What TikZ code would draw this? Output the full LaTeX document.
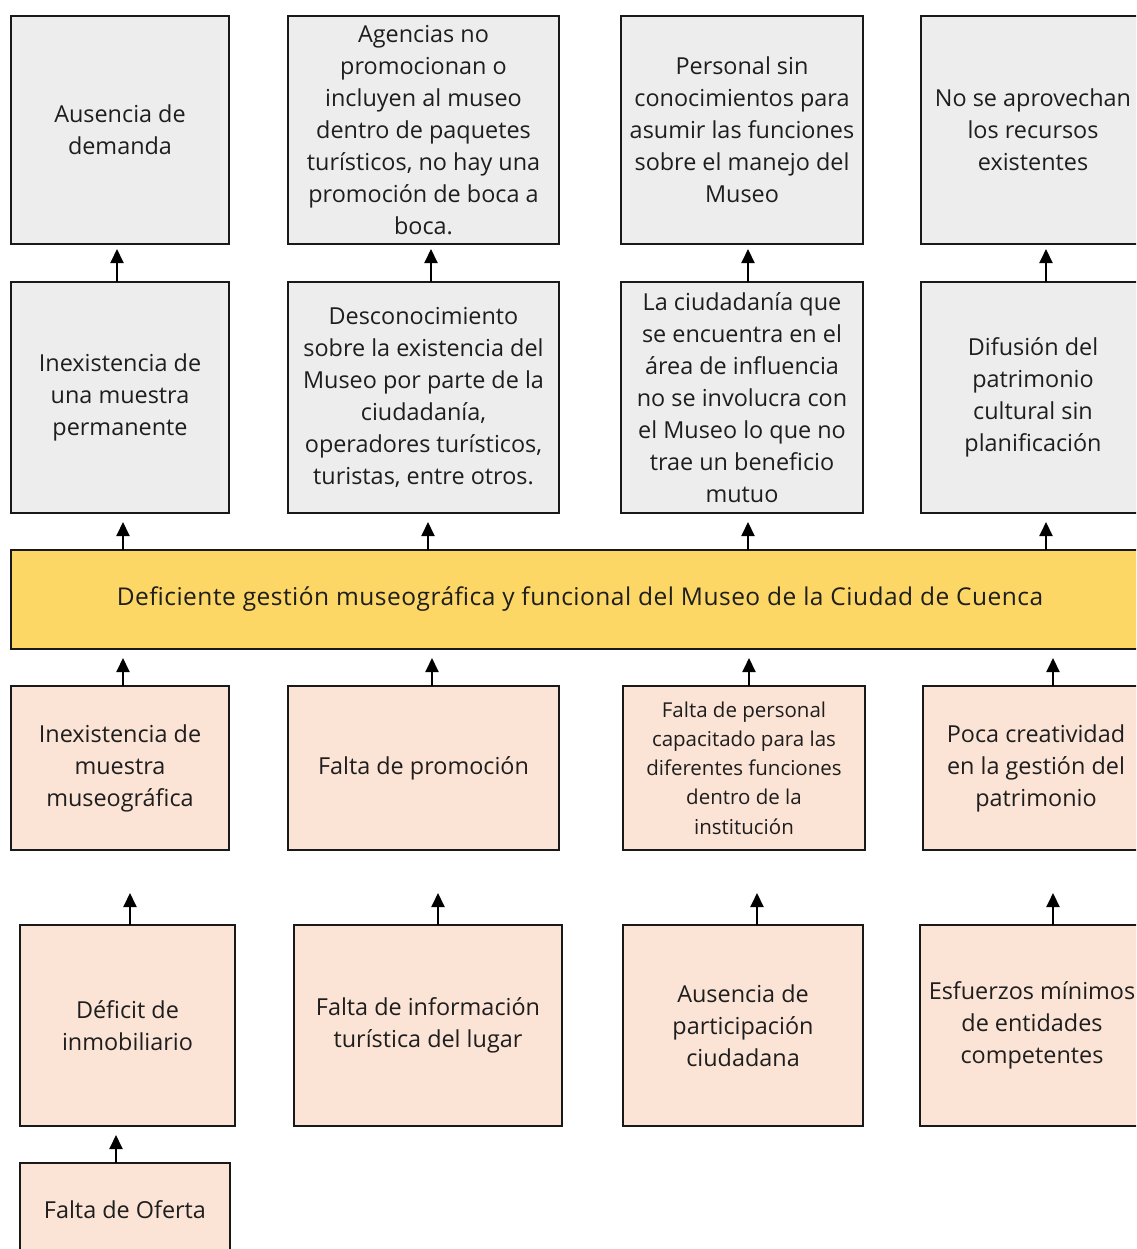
\documentclass[tikz,border=0pt]{standalone}
\usepackage{fontspec}
\setmainfont{Open Sans}
\usetikzlibrary{arrows.meta}
\definecolor{greyfill}{HTML}{EDEDED}
\definecolor{yellowfill}{HTML}{FCD765}
\definecolor{pinkfill}{HTML}{FBE3D6}
\definecolor{txt}{HTML}{1E1E1E}
\tikzset{
  box/.style={draw=black!90, line width=1.8pt, anchor=north west, inner sep=0pt, outer sep=0pt, align=center,
    font=\fontsize{23.4}{32}\selectfont, text=txt},
  effect/.style={box, fill=greyfill},
  cause/.style={box, fill=pinkfill},
  core/.style={box, fill=yellowfill},
  arr/.style={line width=2pt, draw=black, -{Triangle[width=13pt,length=14pt]}},
}
\begin{document}
\begin{tikzpicture}[x=1pt,y=-1pt]
\useasboundingbox (0,0) rectangle (1136,1249);
\clip (0,0) rectangle (1136,1249);
\fill[white] (0,0) rectangle (1136,1249);
% row 1
\node[effect, minimum width=218pt, minimum height=228pt] (r1c1) at (11,16) {Ausencia de\\demanda};
\node[effect, minimum width=271pt, minimum height=228pt] (r1c2) at (288,16) {Agencias no\\promocionan o\\incluyen al museo\\dentro de paquetes\\turísticos, no hay una\\promoción de boca a\\boca.};
\node[effect, minimum width=242pt, minimum height=228pt] (r1c3) at (621,16) {Personal sin\\conocimientos para\\asumir las funciones\\sobre el manejo del\\Museo};
\node[effect, minimum width=224pt, minimum height=228pt] (r1c4) at (921,16) {No se aprovechan\\los recursos\\existentes};
% row 2
\node[effect, minimum width=218pt, minimum height=231pt] (r2c1) at (11,282) {Inexistencia de\\una muestra\\permanente};
\node[effect, minimum width=271pt, minimum height=231pt] (r2c2) at (288,282) {Desconocimiento\\sobre la existencia del\\Museo por parte de la\\ciudadanía,\\operadores turísticos,\\turistas, entre otros.};
\node[effect, minimum width=242pt, minimum height=231pt] (r2c3) at (621,282) {La ciudadanía que\\se encuentra en el\\área de influencia\\no se involucra con\\el Museo lo que no\\trae un beneficio\\mutuo};
\node[effect, minimum width=224pt, minimum height=231pt] (r2c4) at (921,282) {Difusión del\\patrimonio\\cultural sin\\planificación};
% main problem
\node[core, minimum width=1138pt, minimum height=99pt, font=\fontsize{24.5}{32}\selectfont\addfontfeatures{LetterSpace=2}] (main) at (11,550) {Deficiente gestión museográfica y funcional del Museo de la Ciudad de Cuenca};
% row 3
\node[cause, minimum width=218pt, minimum height=164pt] (r3c1) at (11,686) {Inexistencia de\\muestra\\museográfica};
\node[cause, minimum width=271pt, minimum height=164pt] (r3c2) at (288,686) {Falta de promoción};
\node[cause, minimum width=242pt, minimum height=164pt, font=\fontsize{20.5}{29.3}\selectfont] (r3c3) at (623,686) {Falta de personal\\capacitado para las\\diferentes funciones\\dentro de la\\institución};
\node[cause, minimum width=226pt, minimum height=164pt] (r3c4) at (923,686) {Poca creatividad\\en la gestión del\\patrimonio};
% row 4
\node[cause, minimum width=215pt, minimum height=201pt] (r4c1) at (20,925) {Déficit de\\inmobiliario};
\node[cause, minimum width=268pt, minimum height=201pt] (r4c2) at (294,925) {Falta de información\\turística del lugar};
\node[cause, minimum width=240pt, minimum height=201pt] (r4c3) at (623,925) {Ausencia de\\participación\\ciudadana};
\node[cause, minimum width=224pt, minimum height=201pt] (r4c4) at (920,925) {Esfuerzos mínimos\\de entidades\\competentes};
% row 5
\node[cause, minimum width=210pt, minimum height=94pt] (r5c1) at (20,1163) {Falta de Oferta};
% arrow x positions
\coordinate (a11) at (117,0); \coordinate (a12) at (431,0); \coordinate (a13) at (748,0); \coordinate (a14) at (1046,0);
\coordinate (a21) at (123,0); \coordinate (a22) at (428,0); \coordinate (a23) at (748,0); \coordinate (a24) at (1046,0);
\coordinate (a31) at (123,0); \coordinate (a32) at (432,0); \coordinate (a33) at (749,0); \coordinate (a34) at (1053,0);
\coordinate (a41) at (130,0); \coordinate (a42) at (438,0); \coordinate (a43) at (757,0); \coordinate (a44) at (1053,0);
\coordinate (a51) at (116,0);
% row 2 -> row 1
\draw[arr, shorten >=5pt] (r2c1.north -| a11) -- (r1c1.south -| a11);
\draw[arr, shorten >=5pt] (r2c2.north -| a12) -- (r1c2.south -| a12);
\draw[arr, shorten >=5pt] (r2c3.north -| a13) -- (r1c3.south -| a13);
\draw[arr, shorten >=5pt] (r2c4.north -| a14) -- (r1c4.south -| a14);
% main -> row 2
\draw[arr, shorten >=9pt] (main.north -| a21) -- (r2c1.south -| a21);
\draw[arr, shorten >=9pt] (main.north -| a22) -- (r2c2.south -| a22);
\draw[arr, shorten >=9pt] (main.north -| a23) -- (r2c3.south -| a23);
\draw[arr, shorten >=9pt] (main.north -| a24) -- (r2c4.south -| a24);
% row 3 -> main
\draw[arr, shorten >=9pt] (r3c1.north -| a31) -- (main.south -| a31);
\draw[arr, shorten >=9pt] (r3c2.north -| a32) -- (main.south -| a32);
\draw[arr, shorten >=9pt] (r3c3.north -| a33) -- (main.south -| a33);
\draw[arr, shorten >=9pt] (r3c4.north -| a34) -- (main.south -| a34);
% row 4 -> row 3
\draw[arr, shorten >=43pt] (r4c1.north -| a41) -- (r3c1.south -| a41);
\draw[arr, shorten >=43pt] (r4c2.north -| a42) -- (r3c2.south -| a42);
\draw[arr, shorten >=43pt] (r4c3.north -| a43) -- (r3c3.south -| a43);
\draw[arr, shorten >=43pt] (r4c4.north -| a44) -- (r3c4.south -| a44);
% row 5 -> row 4
\draw[arr, shorten >=9pt] (r5c1.north -| a51) -- (r4c1.south -| a51);
\end{tikzpicture}
\end{document}
